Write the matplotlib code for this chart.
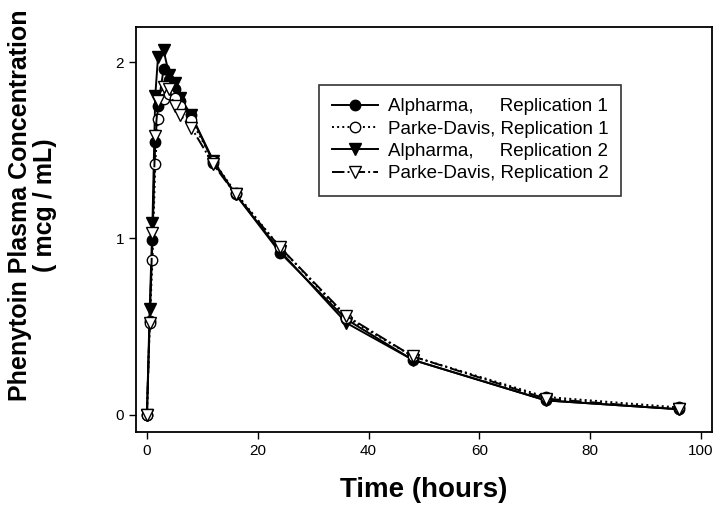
import matplotlib
matplotlib.use("Agg")
import matplotlib.pyplot as plt

# sampling times (hours)
time_h = [0, 0.5, 1, 1.5, 2, 3, 4, 5, 6, 8, 12, 16, 24, 36, 48, 72, 96]

# mean phenytoin plasma concentration (mcg/mL)
alpharma_r1 = [0, 0.53, 0.99, 1.55, 1.75, 1.96, 1.90, 1.85, 1.78, 1.70, 1.43, 1.25, 0.92, 0.54, 0.31, 0.08, 0.03]
parke_r1 = [0, 0.52, 0.875, 1.42, 1.68, 1.79, 1.82, 1.80, 1.75, 1.67, 1.44, 1.26, 0.95, 0.55, 0.33, 0.10, 0.04]
alpharma_r2 = [0, 0.60, 1.09, 1.81, 2.03, 2.07, 1.93, 1.88, 1.80, 1.70, 1.44, 1.25, 0.93, 0.52, 0.31, 0.08, 0.03]
parke_r2 = [0, 0.52, 1.03, 1.58, 1.78, 1.86, 1.85, 1.75, 1.70, 1.63, 1.42, 1.25, 0.95, 0.56, 0.33, 0.09, 0.03]

labels = ["Alpharma,     Replication 1",
          "Parke-Davis, Replication 1",
          "Alpharma,     Replication 2",
          "Parke-Davis, Replication 2"]

plt.rcParams["font.family"] = ["Liberation Sans", "DejaVu Sans"]

fig = plt.figure(figsize=(7.15, 5.12), dpi=100)
ax = fig.add_axes([0.190, 0.156, 0.806, 0.791])

lw = 1.4
ms = 7.5
ax.plot(time_h, alpharma_r1, color="black", linestyle="-", linewidth=lw,
        marker="o", markersize=ms, markerfacecolor="black", label=labels[0], zorder=3)
ax.plot(time_h, parke_r1, color="black", linestyle=":", linewidth=lw,
        marker="o", markersize=ms, markerfacecolor="white", label=labels[1], zorder=4)
ax.plot(time_h, alpharma_r2, color="black", linestyle="-", linewidth=lw,
        marker="v", markersize=ms + 1, markerfacecolor="black", label=labels[2], zorder=3)
ax.plot(time_h, parke_r2, color="black", linestyle="-.", linewidth=lw,
        marker="v", markersize=ms + 1, markerfacecolor="white", label=labels[3], zorder=5)

ax.set_xlim(-2, 102)
ax.set_ylim(-0.1, 2.2)
ax.set_xticks([0, 20, 40, 60, 80, 100])
ax.set_yticks([0, 1, 2])
ax.tick_params(direction="out", length=5, width=1, labelsize=11, colors="black")
for s in ax.spines.values():
    s.set_linewidth(1.3)

ax.set_xlabel("Time (hours)", fontsize=20, fontweight="bold", labelpad=14)
ax.set_ylabel("Phenytoin Plasma Concentration\n( mcg / mL)", fontsize=18,
              fontweight="bold", linespacing=1.05)
ax.yaxis.set_label_coords(-0.137, 0.56)

leg = ax.legend(loc="upper left", bbox_to_anchor=(0.318, 0.857), borderaxespad=0,
                fontsize=13.5, frameon=True, fancybox=False, edgecolor="black",
                handlelength=2.45, borderpad=0.7, labelspacing=0.28, handletextpad=0.5)
leg.get_frame().set_linewidth(1.2)

fig.savefig("out.png", dpi=100, facecolor="white")
